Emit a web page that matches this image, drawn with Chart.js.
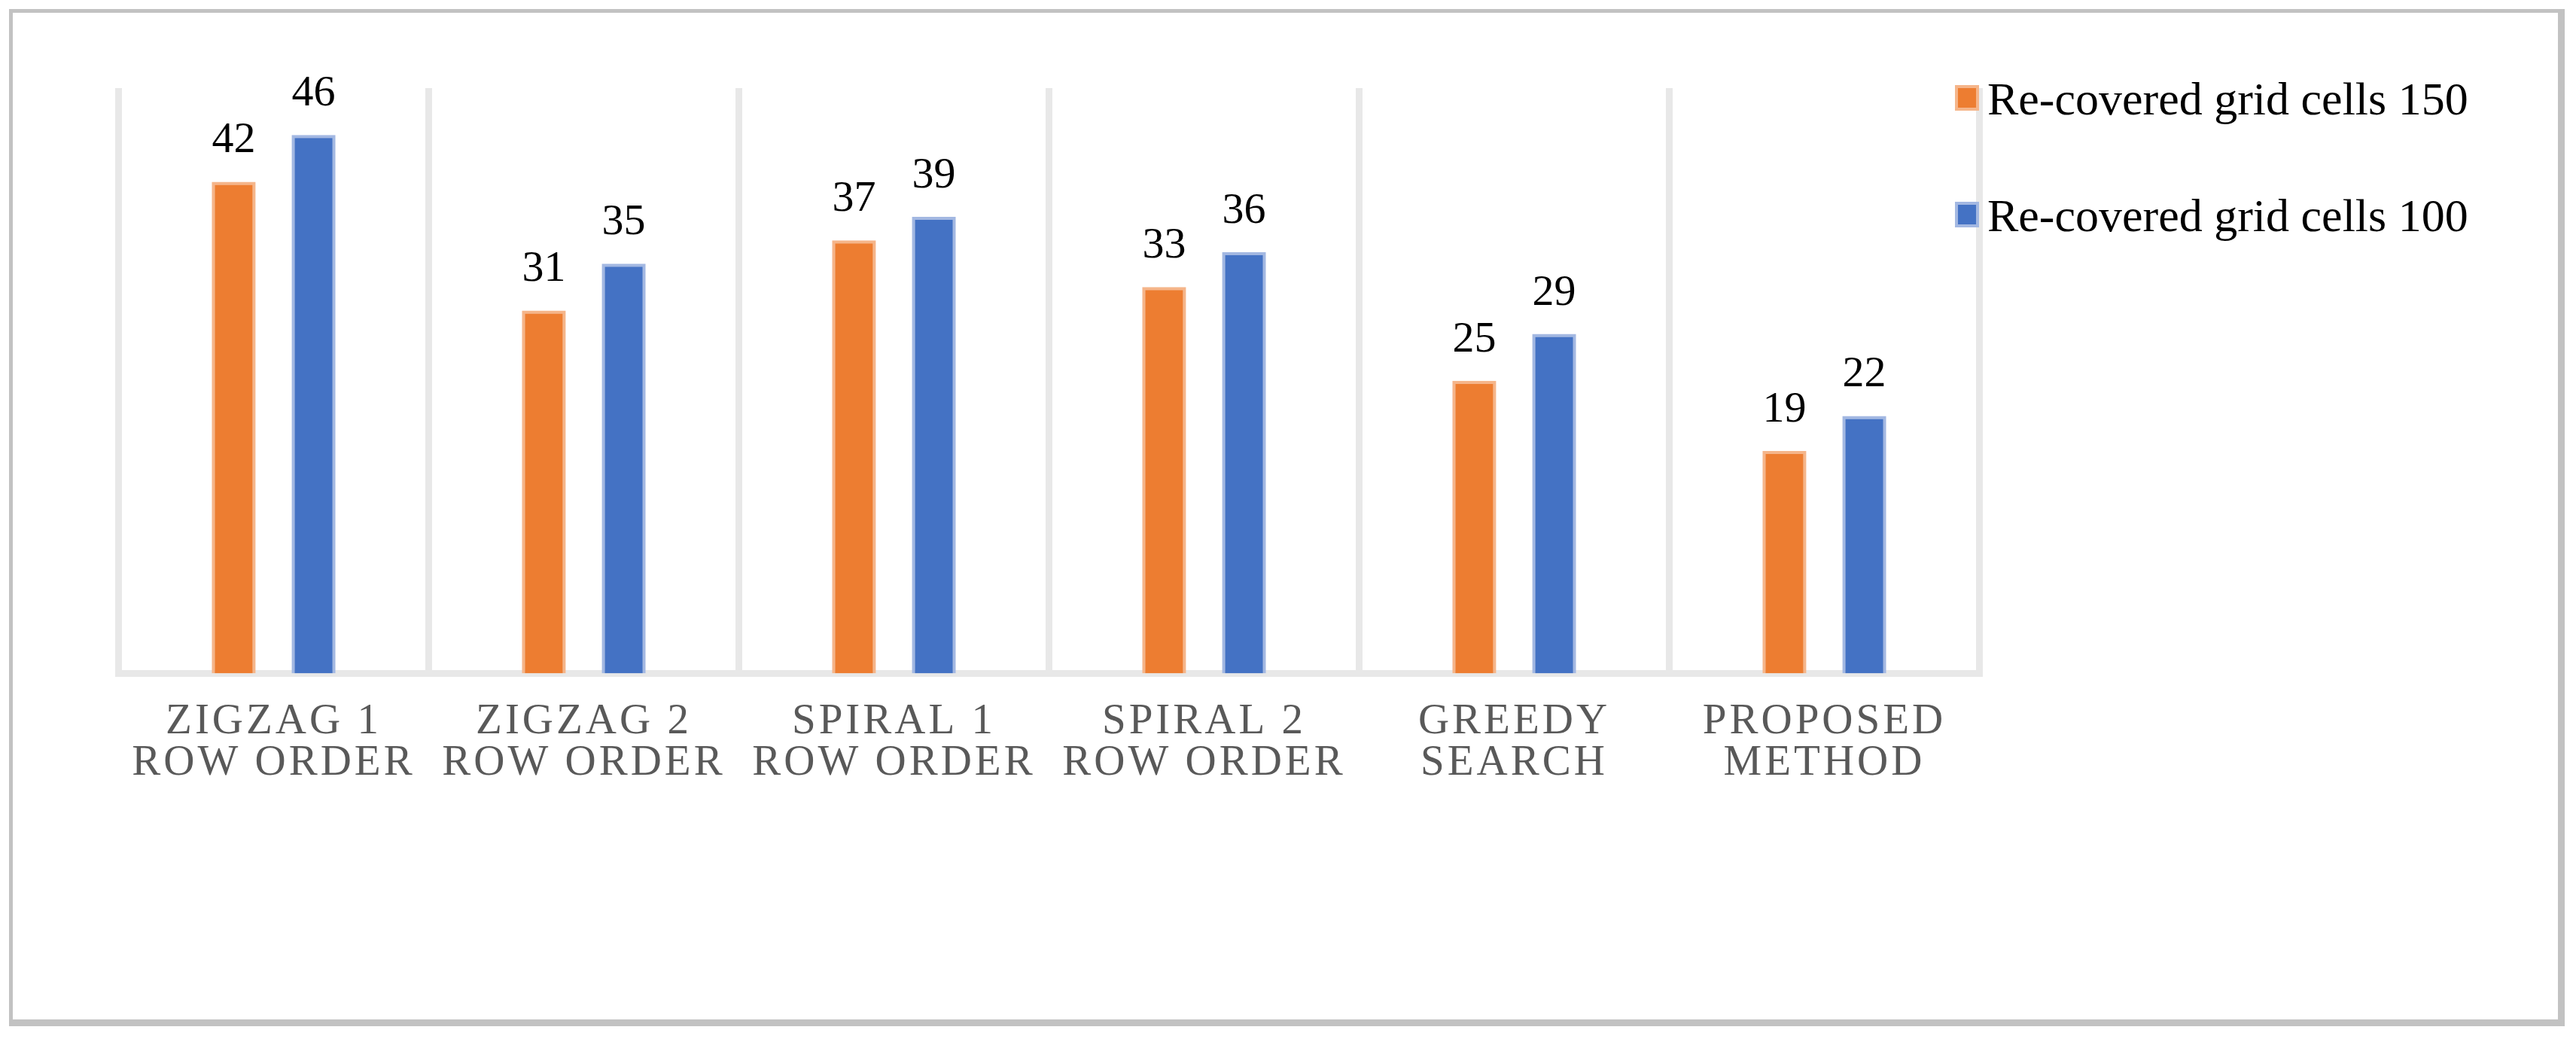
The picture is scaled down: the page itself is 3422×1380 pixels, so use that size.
<!DOCTYPE html>
<html>
<head>
<meta charset="utf-8">
<script src="https://cdn.jsdelivr.net/npm/chart.js@4.4.1/dist/chart.umd.min.js"></script>
<style>
  html, body { margin: 0; padding: 0; background: #fff; }
  #wrap { position: relative; width: 3422px; height: 1380px; }
</style>
</head>
<body>
<div id="wrap"><canvas id="coverageChart"></canvas></div>
<script>
const categories = [
    ['ZIGZAG 1', 'ROW ORDER'],
    ['ZIGZAG 2', 'ROW ORDER'],
    ['SPIRAL 1', 'ROW ORDER'],
    ['SPIRAL 2', 'ROW ORDER'],
    ['GREEDY', 'SEARCH'],
    ['PROPOSED', 'METHOD'],
];
const seriesNames = ['Re-covered grid cells 150', 'Re-covered grid cells 100'];
const cells150 = [42, 31, 37, 33, 25, 19];
const cells100 = [46, 35, 39, 36, 29, 22];

const serif = "'Liberation Serif', 'Times New Roman', serif";
const orange = '#ED7D31';
const blue = '#4472C4';

// value labels above each bar
const barValueLabels = {
    id: 'barValueLabels',
    afterDatasetsDraw(chart) {
        const ctx = chart.ctx;
        ctx.save();
        ctx.letterSpacing = '0px';
        ctx.font = '58px ' + serif;
        ctx.fillStyle = '#000';
        ctx.textAlign = 'center';
        ctx.textBaseline = 'alphabetic';
        chart.data.datasets.forEach((ds, i) => {
            chart.getDatasetMeta(i).data.forEach((bar, j) => {
                ctx.fillText(String(ds.data[j]), bar.x, bar.y - 39);
            });
        });
        ctx.restore();
    },
};

// legend at top right + outer frame
const sideLegend = {
    id: 'sideLegend',
    beforeDraw(chart) {
        chart.ctx.letterSpacing = '4px';
    },
    beforeDatasetsDraw(chart) {
        chart.ctx.letterSpacing = '0px';
    },
    afterDraw(chart) {
        const ctx = chart.ctx;
        ctx.save();
        ctx.letterSpacing = '0px';
        chart.data.datasets.forEach((ds, i) => {
            const cy = 130 + i * 155;
            ctx.fillStyle = ds.borderColor;
            ctx.fillRect(2597, cy - 17, 32, 34);
            ctx.fillStyle = ds.backgroundColor;
            ctx.fillRect(2601, cy - 13, 24, 26);
            ctx.fillStyle = '#000';
            ctx.font = '62px ' + serif;
            ctx.textAlign = 'left';
            ctx.textBaseline = 'alphabetic';
            ctx.fillText(ds.label, 2640, cy + 22);
        });
        ctx.fillStyle = '#c2c2c2';
        ctx.fillRect(12, 12, 3395, 5);
        ctx.fillRect(12, 12, 5, 1351);
        ctx.fillRect(3398, 12, 9, 1351);
        ctx.fillRect(12, 1354, 3395, 9);
        ctx.restore();
    },
};

const chart = new Chart(document.getElementById('coverageChart'), {
    type: 'bar',
    data: {
        labels: categories,
        datasets: [
            {
                label: seriesNames[0],
                data: cells150,
                backgroundColor: orange,
                borderColor: '#F5B58A',
                borderWidth: 4,
            },
            {
                label: seriesNames[1],
                data: cells100,
                backgroundColor: blue,
                borderColor: '#A3B8E2',
                borderWidth: 4,
            },
        ],
    },
    options: {
        responsive: true,
        maintainAspectRatio: false,
        animation: false,
        layout: {
            padding: { left: 157.5, right: 792.5, top: 117, bottom: 0 },
        },
        plugins: {
            legend: { display: false },
            tooltip: { enabled: false },
        },
        datasets: {
            bar: { categoryPercentage: 0.515, barPercentage: 0.55 },
        },
        scales: {
            x: {
                grid: { color: '#e8e8e8', lineWidth: 9, drawTicks: false, offset: true },
                border: { display: true, color: '#e8e8e8', width: 9 },
                ticks: {
                    autoSkip: false,
                    maxRotation: 0,
                    padding: 37,
                    color: '#595959',
                    font: { family: serif, size: 57, lineHeight: 0.965 },
                },
                afterFit(scale) {
                    scale.height = 485.5;
                },
            },
            y: {
                display: false,
                min: 0,
                max: 50,
            },
        },
    },
    plugins: [barValueLabels, sideLegend],
});
</script>
</body>
</html>
